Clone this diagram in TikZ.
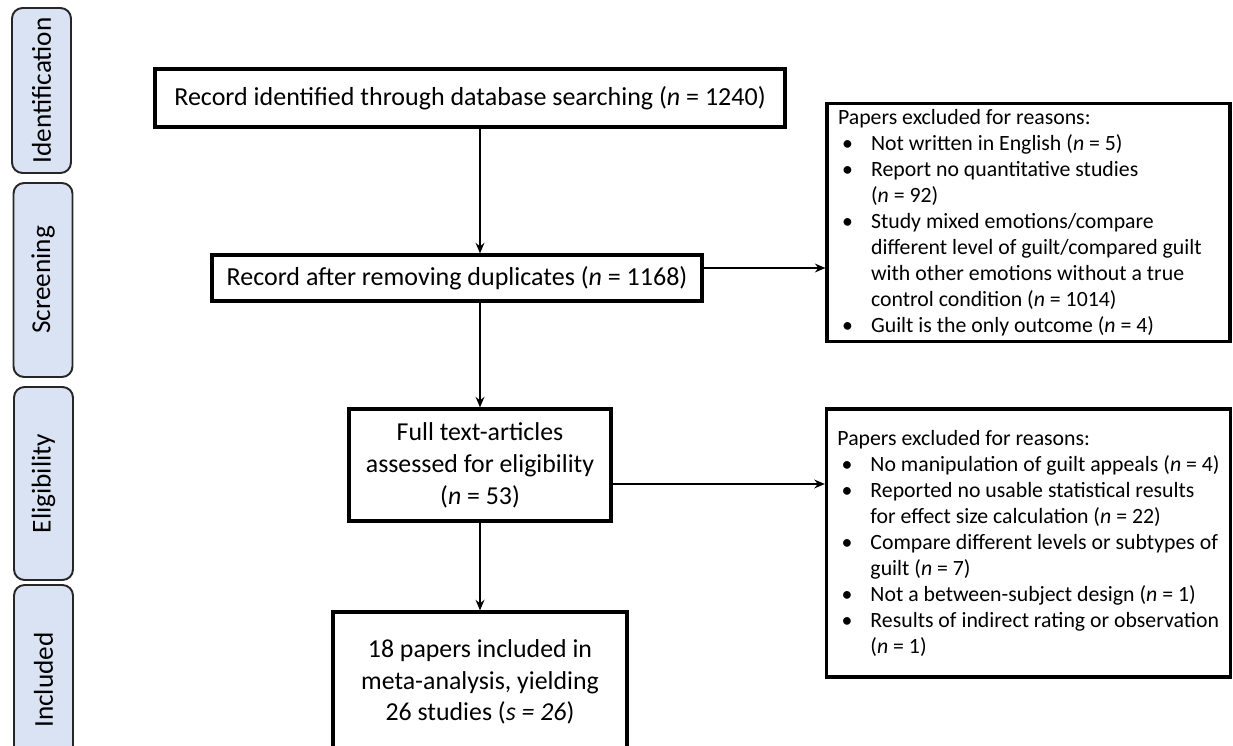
\documentclass[tikz,border=0pt]{standalone}
\usepackage{fontspec}
\setmainfont{Carlito}
\usepackage{xcolor}
\usetikzlibrary{arrows.meta, positioning}

\definecolor{phaseblue}{HTML}{DAE3F3}
\newcommand{\bullitem}{\hspace*{2.3pt}\makebox[16.5pt][l]{\textbullet}}
\newcommand{\bullcont}{\hspace*{18.8pt}}
\newcommand{\reasonhead}{\makebox[7.62cm][l]{Papers excluded for reasons:}}

\begin{document}
\begin{tikzpicture}[x=0.02cm, y=-0.02cm, >={Stealth[length=6pt,width=5pt]},
    box/.style={draw, line width=1.8pt, align=center, inner sep=2pt},
    phase/.style={draw=black!85, line width=1.1pt, rounded corners=6pt, fill=phaseblue,
        rotate=90, minimum height=1.18cm, font=\fontsize{15.5}{18}\selectfont},
    reasons/.style={draw, line width=1.8pt, align=left, inner xsep=0.22cm,
        font=\fontsize{12.4}{14.8}\selectfont}]
    \useasboundingbox (0,0) rectangle (1233,746);
    \clip (0,0) rectangle (1233,746);

    % stages on the left
    \node[phase, minimum width=3.3cm] (ident) at (41.5,90.5) {Identification};
    \node[phase, minimum width=3.88cm] (screen) at (43,280) {Screening};
    \node[phase, minimum width=3.86cm] (elig) at (43.5,483.5) {Eligibility};
    \node[phase, minimum width=3.8cm] (incl) at (43.5,680) {Included};

    % main flow
    \node[box, minimum width=12.6cm, minimum height=1.16cm, font=\fontsize{14.8}{18}\selectfont] (rec) at (470,98)
        {Record identified through database searching (\textit{n} = 1240)};
    \node[box, minimum width=9.8cm, minimum height=0.92cm, font=\fontsize{14.8}{18}\selectfont] (dup) at (457,278)
        {Record after removing duplicates (\textit{n} = 1168)};
    \node[box, minimum width=5.24cm, minimum height=2.24cm, font=\fontsize{14.7}{18.2}\selectfont] (full) at (480,465)
        {Full text-articles\\assessed for eligibility\\(\textit{n} = 53)};
    \node[box, minimum width=5.88cm, minimum height=2.8cm, font=\fontsize{14.7}{17.8}\selectfont] (meta) at (480,682)
        {18 papers included in\\meta-analysis, yielding\\26 studies (\textit{s = 26})};

    % exclusions
    \node[reasons, minimum height=4.66cm] (excl1) at (1028.5,222.5) {
        \reasonhead\\
        \bullitem Not written in English (\textit{n} = 5)\\
        \bullitem Report no quantitative studies\\
        \bullcont (\textit{n} = 92)\\
        \bullitem Study mixed emotions/compare\\
        \bullcont different level of guilt/compared guilt\\
        \bullcont with other emotions without a true\\
        \bullcont control condition (\textit{n} = 1014)\\
        \bullitem Guilt is the only outcome (\textit{n} = 4)
    };
    \node[reasons, minimum height=5.36cm] (excl2) at (1028.5,543) {
        \reasonhead\\
        \bullitem No manipulation of guilt appeals (\textit{n} = 4)\\
        \bullitem Reported no usable statistical results\\
        \bullcont for effect size calculation (\textit{n} = 22)\\
        \bullitem Compare different levels or subtypes of\\
        \bullcont guilt (\textit{n} = 7)\\
        \bullitem Not a between-subject design (\textit{n} = 1)\\
        \bullitem Results of indirect rating or observation\\
        \bullcont (\textit{n} = 1)
    };

    % arrows
    \draw[->, line width=1.2pt] (rec.south -| full) -- (dup.north -| full);
    \draw[->, line width=1.2pt] (dup.south -| full) -- (full.north);
    \draw[->, line width=1.2pt] (full.south) -- (meta.north);
    \draw[->, line width=1.2pt] ([yshift=0.2cm]dup.east) -- ([yshift=0.2cm]dup.east -| excl1.west);
    \draw[->, line width=1.2pt] ([yshift=-0.38cm]full.east) -- ([yshift=-0.38cm]full.east -| excl2.west);
\end{tikzpicture}
\end{document}
